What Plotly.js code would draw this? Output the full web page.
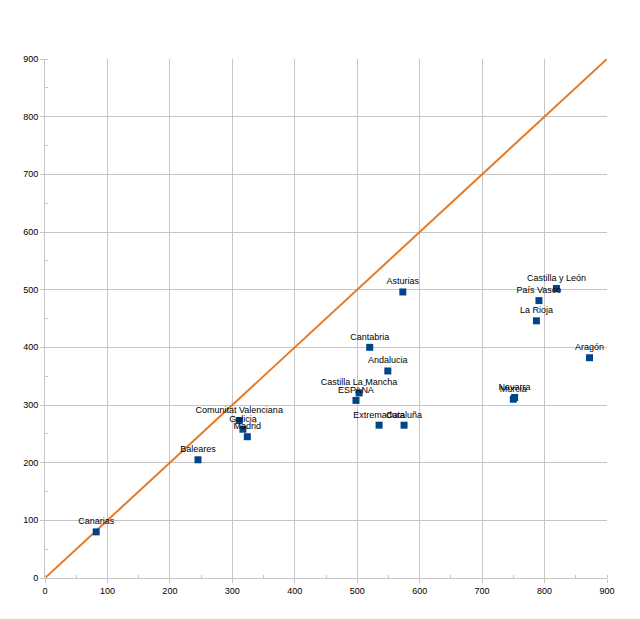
<!DOCTYPE html>
<html>
<head>
<meta charset="utf-8">
<script src="https://cdn.plot.ly/plotly-3.0.1.min.js"></script>
<style>html,body{margin:0;padding:0;background:#fff;}#chart{width:640px;height:619px;}</style>
</head>
<body>
<div id="chart"></div>
<script>
const regions = ["Canarias","Baleares","Comunitat Valenciana","Galicia","Madrid","ESPAÑA","Castilla La Mancha","Cantabria","Andalucia","Extremadura","Cataluña","Asturias","Murcia","Navarra","La Rioja","País Vasco","Castilla y León","Aragón"];
const xValues = [82,245,311,317,324,498,503,520,549,535,575,573,750,752,787,791,819,872];
const yValues = [80,205,273,258,245,308,321,400,359,265,265,496,310,313,446,481,502,382];
const lineX = [0,900];
const lineY = [0,900];

const traces = [
  {x: lineX, y: lineY, mode: 'lines', line: {color: '#e57a26', width: 2}, hoverinfo: 'skip'},
  {x: xValues, y: yValues, mode: 'markers+text', text: regions, textposition: 'top center',
   textfont: {family: 'Liberation Sans, Arial, sans-serif', size: 9, color: '#000'},
   marker: {symbol: 'square', size: 7, color: '#004586'}, cliponaxis: false}
];
const axisCommon = {
  range: [0, 900], dtick: 100, showgrid: true, gridcolor: '#c6c6c6', gridwidth: 1,
  zeroline: false, showline: true, linecolor: '#c6c6c6', ticks: 'outside', ticklen: 4,
  tickcolor: '#c6c6c6', tickfont: {family: 'Liberation Sans, Arial, sans-serif', size: 9, color: '#000'},
  minor: {dtick: 50, ticks: 'inside', ticklen: 3, tickcolor: '#c6c6c6', showgrid: false},
  fixedrange: true
};
const layout = {
  width: 640, height: 619,
  margin: {l: 45, r: 33, t: 59, b: 41},
  showlegend: false,
  paper_bgcolor: '#fff', plot_bgcolor: '#fff',
  xaxis: Object.assign({}, axisCommon),
  yaxis: Object.assign({}, axisCommon),
};
Plotly.newPlot('chart', traces, layout, {staticPlot: true});
</script>
</body>
</html>
